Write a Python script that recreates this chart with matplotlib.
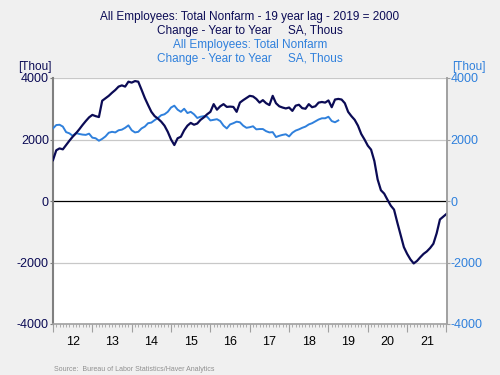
import numpy as np
import matplotlib
matplotlib.use("Agg")
import matplotlib.pyplot as plt
from matplotlib.ticker import FixedLocator, NullFormatter

plt.rcParams["font.family"] = ["Liberation Sans", "DejaVu Sans"]
plt.rcParams["axes.unicode_minus"] = False

# monthly, Jan 2012 onward (dark: 19-year-lagged series, light: actual)
lagged = [1330, 1650, 1710, 1680, 1820, 1960, 2090, 2200, 2330, 2470, 2600, 2720,
          2800, 2760, 2730, 3260, 3340, 3420, 3520, 3610, 3720, 3760, 3720, 3880,
          3850, 3900, 3880, 3620, 3350, 3120, 2900, 2760, 2680, 2580, 2450, 2250,
          2000, 1820, 2040, 2090, 2300, 2450, 2540, 2480, 2520, 2640, 2720, 2820,
          2900, 3150, 2970, 3080, 3150, 3060, 3070, 3060, 2900, 3200, 3280, 3350,
          3420, 3400, 3320, 3200, 3280, 3180, 3120, 3420, 3180, 3080, 3040, 3010,
          3040, 2930, 3100, 3130, 3020, 3000, 3150, 3050, 3080, 3200, 3220, 3200,
          3270, 3050, 3300, 3320, 3300, 3180, 2900, 2760, 2640, 2450, 2180, 2000,
          1800, 1670, 1300, 700, 350, 240, 40, -150, -280, -700, -1100, -1500,
          -1720, -1900, -2030, -1950, -1830, -1720, -1640, -1530, -1390, -1050, -600, -510,
          -420]
actual = [2360, 2470, 2480, 2420, 2240, 2200, 2120, 2210, 2180, 2160, 2150, 2190,
          2060, 2040, 1960, 2020, 2100, 2220, 2250, 2230, 2300, 2320, 2380, 2460,
          2300, 2230, 2250, 2360, 2420, 2530, 2550, 2630, 2700, 2790, 2820, 2900,
          3040, 3100, 2970, 2900, 3000, 2860, 2900, 2820, 2700, 2740, 2760, 2740,
          2620, 2640, 2660, 2600, 2450, 2360, 2490, 2530, 2580, 2560, 2450, 2380,
          2400, 2430, 2330, 2340, 2340, 2270, 2230, 2240, 2080, 2120, 2150, 2170,
          2100, 2220, 2290, 2330, 2380, 2420, 2490, 2530, 2590, 2650, 2690, 2690,
          2740, 2600, 2560, 2620]
years = list(range(2012, 2022))
year_labels = [str(y)[2:] for y in years]

dark = "#0b0b55"
light = "#2f80dc"
bg = "#f0f0f0"

t_lag = 2012 + np.arange(len(lagged)) / 12
t_act = 2012 + np.arange(len(actual)) / 12

fig = plt.figure(figsize=(5, 3.75), dpi=100, facecolor=bg)
ax = fig.add_axes([0.106, 0.136, 0.787, 0.656])
ax.set_facecolor("white")
ax.plot(t_lag, lagged, color=dark, lw=1.6, zorder=4)
ax.plot(t_act, actual, color=light, lw=1.4, zorder=3)
ax.set_xlim(2012, 2022)
ax.set_ylim(-4000, 4000)

for v in [-2000, 2000, 4000]:
    ax.axhline(v, color="#c8c8c8", lw=0.9, zorder=1)
ax.axhline(0, color="black", lw=0.9, zorder=2)

ax.spines["top"].set_visible(False)
ax.spines["left"].set_color("#808080")
ax.spines["left"].set_linewidth(1.5)
ax.spines["right"].set_color("#a0a0a0")
ax.spines["right"].set_linewidth(1.2)
ax.spines["bottom"].set_color("#a0a0a0")
ax.spines["bottom"].set_linewidth(1.2)

ax.set_yticks([-4000, -2000, 0, 2000, 4000])
ax.tick_params(axis="y", colors="#808080", labelcolor=dark, labelsize=9, length=2, pad=1)

ax.xaxis.set_major_locator(FixedLocator(list(range(2012, 2023))))
ax.xaxis.set_major_formatter(NullFormatter())
ax.xaxis.set_minor_locator(FixedLocator([2012 + m / 12 for m in range(121)]))
ax.tick_params(axis="x", which="major", length=6, color="#a0a0a0", direction="out")
ax.tick_params(axis="x", which="minor", length=2.5, color="#a0a0a0", direction="out")
for y, lab in zip(years, year_labels):
    ax.text(y + 0.5, -0.05, lab, transform=ax.get_xaxis_transform(),
            ha="center", va="top", fontsize=9, color="black")

ax2 = ax.twinx()
ax2.set_ylim(-4000, 4000)
ax2.set_yticks([-4000, -2000, 0, 2000, 4000])
ax2.tick_params(axis="y", colors="#a0a0a0", labelcolor=light, labelsize=9, length=2, pad=1)
for s in ["top", "left", "bottom"]:
    ax2.spines[s].set_visible(False)
ax2.spines["right"].set_color("#a0a0a0")
ax2.spines["right"].set_linewidth(1.2)

fig.text(0.5, 0.955, "All Employees: Total Nonfarm - 19 year lag - 2019 = 2000",
         ha="center", va="center", fontsize=8.5, color=dark)
fig.text(0.5, 0.918, "Change - Year to Year     SA, Thous",
         ha="center", va="center", fontsize=8.5, color=dark)
fig.text(0.5, 0.880, "All Employees: Total Nonfarm",
         ha="center", va="center", fontsize=8.5, color=light)
fig.text(0.5, 0.843, "Change - Year to Year     SA, Thous",
         ha="center", va="center", fontsize=8.5, color=light)
fig.text(0.07, 0.822, "[Thou]", ha="center", va="center", fontsize=8.5, color=dark)
fig.text(0.937, 0.822, "[Thou]", ha="center", va="center", fontsize=8.5, color=light)
fig.text(0.108, 0.015, "Source:  Bureau of Labor Statistics/Haver Analytics",
         ha="left", va="center", fontsize=5, color="#909090")

fig.savefig("out.png", dpi=100, facecolor=bg)
